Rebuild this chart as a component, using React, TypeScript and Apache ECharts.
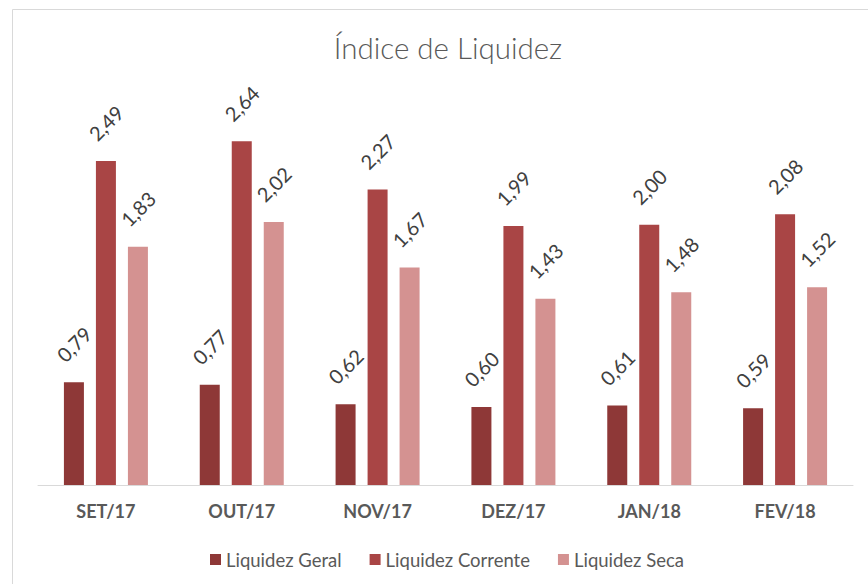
import React, { useEffect, useRef } from "react";
import * as echarts from "echarts";

const categories = ["SET/17", "OUT/17", "NOV/17", "DEZ/17", "JAN/18", "FEV/18"];
const liquidezGeral = [0.79, 0.77, 0.62, 0.6, 0.61, 0.59];
const liquidezCorrente = [2.49, 2.64, 2.27, 1.99, 2.0, 2.08];
const liquidezSeca = [1.83, 2.02, 1.67, 1.43, 1.48, 1.52];
const seriesNames = ["Liquidez Geral", "Liquidez Corrente", "Liquidez Seca"];
const colors = ["#8E3837", "#A94545", "#D49291"];

const FONT = "Lato, 'Noto Sans', sans-serif";

export default function App() {
  const ref = useRef<HTMLDivElement>(null);
  useEffect(() => {
    document.body.style.margin = "0";
    if (!ref.current) return;
    const chart = echarts.init(ref.current, undefined, { renderer: "svg" });
    const fmt = (p: any) => Number(p.value).toFixed(2).replace(".", ",");
    const label = {
      show: true,
      position: "top",
      distance: 38,
      rotate: 45,
      align: "center",
      verticalAlign: "middle",
      formatter: fmt,
      color: "#404040",
      fontSize: 20,
      fontFamily: FONT,
    };
    const datas = [liquidezGeral, liquidezCorrente, liquidezSeca];
    chart.setOption({
      animation: false,
      backgroundColor: "#ffffff",
      textStyle: { fontFamily: FONT },
      title: {
        text: "Índice de Liquidez",
        left: 443,
        top: 27,
        textAlign: "center",
        textStyle: { fontFamily: FONT, fontSize: 29.5, fontWeight: 300, color: "#595959" },
      },
      graphic: [
        {
          type: "rect",
          shape: { x: 12.5, y: 9.5, width: 900, height: 600 },
          style: { fill: "none", stroke: "#d9d9d9", lineWidth: 1 },
          silent: true,
        },
      ],
      legend: {
        top: 545,
        left: 205,
        itemWidth: 11,
        itemHeight: 11,
        itemGap: 28,
        icon: "rect",
        data: seriesNames,
        textStyle: { fontFamily: FONT, fontSize: 18.5, color: "#595959" },
      },
      grid: { left: 38, right: 15, top: 94.5, bottom: 99, containLabel: false },
      xAxis: {
        type: "category",
        data: categories,
        axisLine: { lineStyle: { color: "#d9d9d9", width: 1 } },
        axisTick: { show: false },
        axisLabel: {
          margin: 17,
          color: "#595959",
          fontWeight: "bold",
          fontSize: 18,
          fontFamily: FONT,
        },
      },
      yAxis: {
        type: "value",
        min: 0,
        max: 3,
        show: false,
        splitLine: { show: false },
      },
      series: seriesNames.map((name, i) => ({
        name,
        type: "bar",
        data: datas[i],
        barWidth: 20,
        barGap: "60%",
        itemStyle: { color: colors[i] },
        label,
      })),
    });
    return () => chart.dispose();
  }, []);
  return <div ref={ref} style={{ width: 868, height: 584, overflow: "hidden" }} />;
}
